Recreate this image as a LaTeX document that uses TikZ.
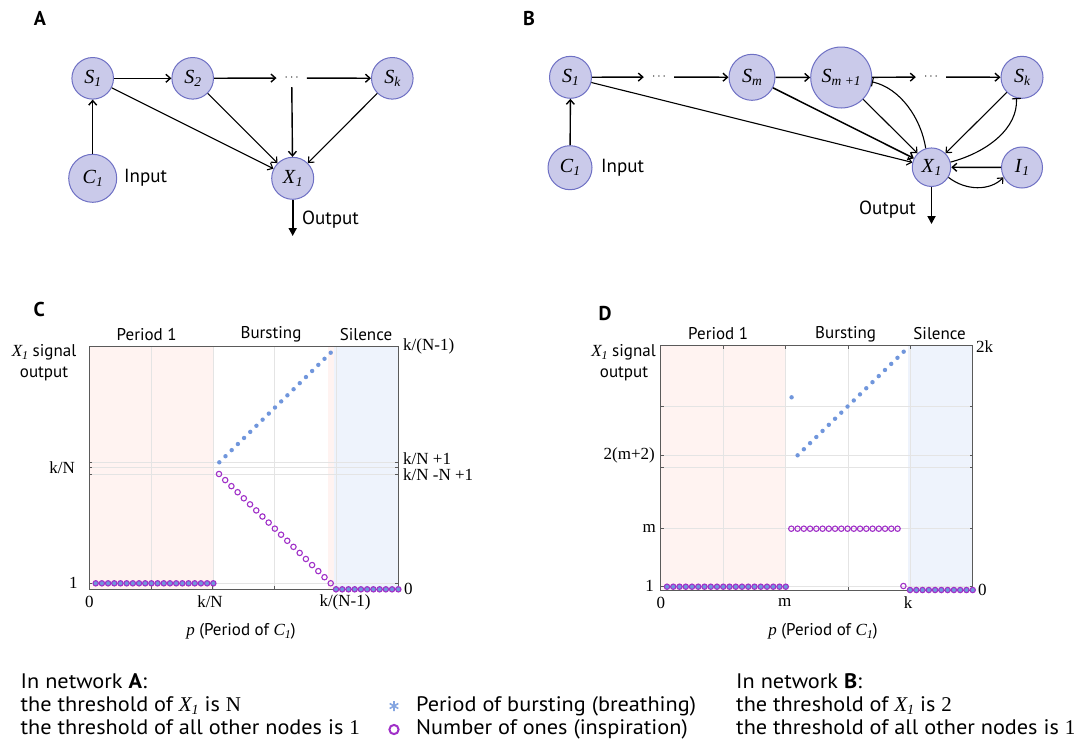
\documentclass[tikz,border=0pt]{standalone}
\usepackage{fontspec}
\setmainfont{Liberation Serif}
\setsansfont{PT Sans}
\newfontfamily\legsf[FakeStretch=1.06]{PT Sans}
\newfontfamily\legrm[FakeStretch=1.0]{Liberation Serif}
\usetikzlibrary{arrows.meta}
\definecolor{nodef}{HTML}{CACAEA}
\definecolor{nodeb}{HTML}{6E70C4}
\definecolor{pinkbg}{HTML}{FFF3F1}
\definecolor{bluebg}{HTML}{EEF3FC}
\definecolor{gridc}{HTML}{E4E4E4}
\definecolor{axisc}{HTML}{5A5A5A}
\definecolor{bluem}{HTML}{7096DC}
\definecolor{purm}{HTML}{A030C8}
\newcommand\sub[1]{\raisebox{-0.35ex}{\fontsize{12}{12}\selectfont\rmfamily\itshape #1}}
\newcommand\nsub[1]{\raisebox{-0.35ex}{\fontsize{13.5}{13.5}\selectfont\rmfamily\itshape #1}}
\newcommand\lsub[1]{\raisebox{-0.35ex}{\fontsize{14}{14}\selectfont\legrm\itshape #1}}
\tikzset{
  nd/.style={circle, draw=nodeb, fill=nodef, line width=1pt, inner sep=0pt,
    font=\fontsize{20}{20}\selectfont\rmfamily},
  dotsn/.style={minimum width=30pt, minimum height=18pt, inner sep=0pt,
    font=\fontsize{12}{12}\selectfont},
  arr/.style={-{Straight Barb[length=4.5pt,width=8pt]}, line width=1.4pt},
  arrt/.style={-{Straight Barb[length=4.5pt,width=8pt]}, line width=1.1pt},
  inh/.style={-{Bar[width=9pt]}, line width=1.1pt},
  outarr/.style={-{Triangle[length=8pt,width=8pt]}, line width=1.8pt},
  txt/.style={inner sep=0pt, font=\fontsize{19}{19}\selectfont\sffamily},
  plab/.style={inner sep=0pt, font=\fontsize{20}{20}\selectfont\sffamily\bfseries},
  rlab/.style={inner sep=0pt, font=\fontsize{17}{17}\selectfont\sffamily},
  tck/.style={inner sep=0pt, font=\fontsize{17}{17}\selectfont\rmfamily},
  leg/.style={inner sep=0pt, font=\fontsize{21}{21}\selectfont\legsf},
  gridl/.style={draw=gridc, line width=0.6pt},
  axl/.style={draw=axisc, line width=0.9pt},
  bdot/.style={fill=bluem},
  pcirc/.style={draw=purm, line width=1.1pt},
}
\begin{document}
\begin{tikzpicture}[x=1pt,y=-1pt]
\useasboundingbox (0,0) rectangle (1083,748);
\fill[white] (0,0) rectangle (1083,748);

% ================= Panel A =================
\node[plab] (lA) at (40,18) {A};
\node[nd, minimum size=41.6pt] (aS1) at (92.7,78.3) {\textit{S}\nsub{1}};
\node[nd, minimum size=41.6pt] (aS2) at (192.7,78.3) {\textit{S}\nsub{2}};
\node[dotsn] (aD) at (291.7,78) {$\cdots$};
\node[nd, minimum size=41.6pt] (aSk) at (392.3,78.3) {\textit{S}\nsub{k}};
\node[nd, minimum size=48pt] (aC1) at (92.7,178.3) {\textit{C}\nsub{1}};
\node[nd, minimum size=42pt] (aX1) at (292.7,178.3) {\textit{X}\nsub{1}};
\node[txt, anchor=west] (aIn) at (124,178) {Input};
\node[txt, anchor=west] (aOutL) at (302,220) {Output};
\coordinate (aOut) at (292.7,236);
\draw[arr] (aS1) -- (aS2);
\draw[arr] (aS2) -- (aD);
\draw[arr] (aD) -- (aSk);
\draw[arr] (aD) -- (aX1);
\draw[arr] (aC1) -- (aS1);
\draw[arrt] (aS1) -- (aX1);
\draw[arrt] (aS2) -- (aX1);
\draw[arrt] (aSk) -- (aX1);
\draw[outarr] (aX1) -- (aOut);

% ================= Panel B =================
\node[plab] (lB) at (529,18) {B};
\node[nd, minimum size=42pt] (bS1) at (570.5,77.3) {\textit{S}\nsub{1}};
\node[dotsn] (bD1) at (659,77) {$\cdots$};
\node[nd, minimum size=46pt] (bSm) at (752,77.3) {\textit{S}\nsub{m}};
\node[nd, minimum size=61pt] (bSp) at (841.2,77.5) {\textit{S}\nsub{m +1}};
\node[dotsn] (bD2) at (931,77) {$\cdots$};
\node[nd, minimum size=42pt] (bSk) at (1022,77.3) {\textit{S}\nsub{k}};
\node[nd, minimum size=44pt] (bC1) at (570,167.7) {\textit{C}\nsub{1}};
\node[nd, minimum size=38.5pt] (bX1) at (931.5,167.2) {\textit{X}\nsub{1}};
\node[nd, minimum size=41pt] (bI1) at (1022,167.5) {\textit{I}\nsub{1}};
\node[txt, anchor=west] (bIn) at (601,167.7) {Input};
\node[txt, anchor=east] (bOutL) at (916,209.3) {Output};
\coordinate (bOut) at (931.5,224);
\draw[arr] (bS1) -- (bD1);
\draw[arr] (bD1) -- (bSm);
\draw[arr] (bSm) -- (bSp);
\draw[arr] (bSp) -- (bD2);
\draw[arr] (bD2) -- (bSk);
\draw[arr] (bC1) -- (bS1);
\draw[arrt] (bS1) -- (bX1);
\draw[arrt, line width=1.5pt] (bSm) -- (bX1);
\draw[arrt] (bSp) -- (bX1);
\draw[arrt] (bSk) -- (bX1);
\draw[arr] (bI1) -- (bX1);
\draw[arrt] (bX1.-31) .. controls (966,191) and (990,191) .. (bI1.-152);
\draw[inh] (bX1.107) .. controls (921,118) and (900,88) .. (bSp.-8);
\draw[inh] (bX1.15) .. controls (988,152) and (1018,128) .. (bSk.-105);
\draw[outarr] (bX1) -- (bOut);

% ================= Panel C =================
\node[plab] (lC) at (39.3,309.3) {C};
\fill[pinkbg] (89.3,346.7) rectangle (213.3,589.3);
\fill[pinkbg] (327.7,346.7) rectangle (334.3,589.3);
\fill[bluebg] (334.3,346.7) rectangle (398.3,589.3);
\foreach \x in {151.1,212.9,274.7,336.5} {
  \draw[gridl] (\x,346.7) -- (\x,589.3);
  \draw[axl] (\x,589.3) -- (\x,586.3);
}
\foreach \y in {462.3,467.7,474,583.3} {
  \draw[gridl] (89.3,\y) -- (398.3,\y);
  \draw[axl] (89.3,\y) -- (92.3,\y);
  \draw[axl] (398.3,\y) -- (395.3,\y);
}
\draw[axl] (89.3,346.7) rectangle (398.3,589.3);
\foreach \i in {0,...,19} {
  \fill[bdot] ({95.7+6.19*\i},583.3) circle (2.6);
  \draw[pcirc] ({95.7+6.19*\i},583.3) circle (2.7);
}
\foreach \i in {0,...,18} {
  \fill[bdot] ({219.3+6.189*\i},{462.3-6.089*\i}) circle (2.2);
  \draw[pcirc] ({219+6.206*\i},{474+6.07*\i}) circle (2.7);
}
\foreach \i in {0,...,10} {
  \fill[bdot] ({336+6.23*\i},589.3) circle (2.6);
  \draw[pcirc] ({336+6.23*\i},589.3) circle (2.7);
}
\node[rlab] (cP1) at (146.7,334.3) {Period 1};
\node[rlab] (cBu) at (271,334.3) {Bursting};
\node[rlab] (cSi) at (366,334.3) {Silence};
\node[rlab] (cY1) at (44,352.7) {{\rmfamily\itshape X}\sub{1} signal};
\node[rlab] (cY2) at (44,374) {output};
\node[tck, anchor=east] (cL1) at (75,468) {k/N};
\node[tck, anchor=east] (cL2) at (77.7,583) {1};
\node[tck] (cX0) at (89.3,602) {0};
\node[tck] (cX1) at (210,602) {k/N};
\node[tck] (cX2) at (345,602) {k/(N-1)};
\node[tck, anchor=west] (cR1) at (403,346.7) {k/(N-1)};
\node[tck, anchor=west] (cR2) at (403,459) {k/N +1};
\node[tck, anchor=west] (cR3) at (403,475) {k/N -N +1};
\node[tck, anchor=west] (cR4) at (404,589) {0};
\node[rlab] (cXl) at (241,631) {{\rmfamily\itshape p} (Period of {\rmfamily\itshape C}\sub{1})};

% ================= Panel D =================
\node[plab] (lD) at (605,313) {D};
\fill[pinkbg] (660.8,345.7) rectangle (785.6,590);
\fill[bluebg] (908.3,345.7) rectangle (972.7,590);
\foreach \x in {723.2,785.6,848,910.3} {
  \draw[gridl] (\x,345.7) -- (\x,590);
  \draw[axl] (\x,590) -- (\x,587);
  \draw[axl] (\x,345.7) -- (\x,348.7);
}
\foreach \y in {406,455.3,467.3,528.7,586.7} {
  \draw[gridl] (660.8,\y) -- (972.7,\y);
  \draw[axl] (660.8,\y) -- (663.8,\y);
  \draw[axl] (972.7,\y) -- (969.7,\y);
}
\draw[axl] (660.8,345.7) rectangle (972.7,590);
\foreach \i in {0,...,19} {
  \fill[bdot] ({667+6.25*\i},586.7) circle (2.6);
  \draw[pcirc] ({667+6.25*\i},586.7) circle (2.7);
}
\fill[bdot] (791.6,397.3) circle (2.2);
\foreach \i in {0,...,17} {
  \fill[bdot] ({797.6+6.24*\i},{455.3-6.094*\i}) circle (2.2);
  \draw[pcirc] ({791.3+6.25*\i},528.7) circle (2.7);
}
\draw[pcirc] (903.4,586) circle (2.7);
\foreach \i in {0,...,10} {
  \fill[bdot] ({910+6.27*\i},590) circle (2.6);
  \draw[pcirc] ({910+6.27*\i},590) circle (2.7);
}
\node[rlab] (dP1) at (718.2,334) {Period 1};
\node[rlab] (dBu) at (845.6,334) {Bursting};
\node[rlab] (dSi) at (939.6,334) {Silence};
\node[rlab] (dY1) at (623.5,352.7) {{\rmfamily\itshape X}\sub{1} signal};
\node[rlab] (dY2) at (624,374) {output};
\node[tck, anchor=east] (dL1) at (655,455.3) {2(m+2)};
\node[tck, anchor=east] (dL2) at (656,528.7) {m};
\node[tck, anchor=east] (dL3) at (654,586) {1};
\node[tck] (dX0) at (660.8,602.7) {0};
\node[tck] (dX1) at (784.7,602.7) {m};
\node[tck] (dX2) at (908,602.7) {k};
\node[tck, anchor=west] (dR1) at (975.8,347) {2k};
\node[tck, anchor=west] (dR2) at (977.9,590) {0};
\node[rlab] (dXl) at (823,631) {{\rmfamily\itshape p} (Period of {\rmfamily\itshape C}\sub{1})};

% ================= Legend =================
\node[leg, anchor=base west] (gA1) at (20.5,688) {In network \textbf{A}:};
\node[leg, anchor=base west] (gA2) at (20.5,711.3) {the threshold of {\legrm\itshape X}\lsub{1} is {\legrm N}};
\node[leg, anchor=base west] (gA3) at (20.5,734.7) {the threshold of all other nodes is {\legrm 1}};
\draw[bluem!85, line width=1.6pt] (394,701) -- (394,711) (389.7,703.5) -- (398.3,708.5) (389.7,708.5) -- (398.3,703.5);
\draw[purm, line width=2pt] (394,729.5) circle (4.6);
\node[leg, anchor=base west] (gS) at (416,711.3) {Period of bursting (breathing)};
\node[leg, anchor=base west] (gO) at (416,734.7) {Number of ones (inspiration)};
\node[leg, anchor=base west] (gB1) at (736,688) {In network \textbf{B}:};
\node[leg, anchor=base west] (gB2) at (736,711.3) {the threshold of {\legrm\itshape X}\lsub{1} is {\legrm 2}};
\node[leg, anchor=base west] (gB3) at (736,734.7) {the threshold of all other nodes is {\legrm 1}};
\end{tikzpicture}
\end{document}
